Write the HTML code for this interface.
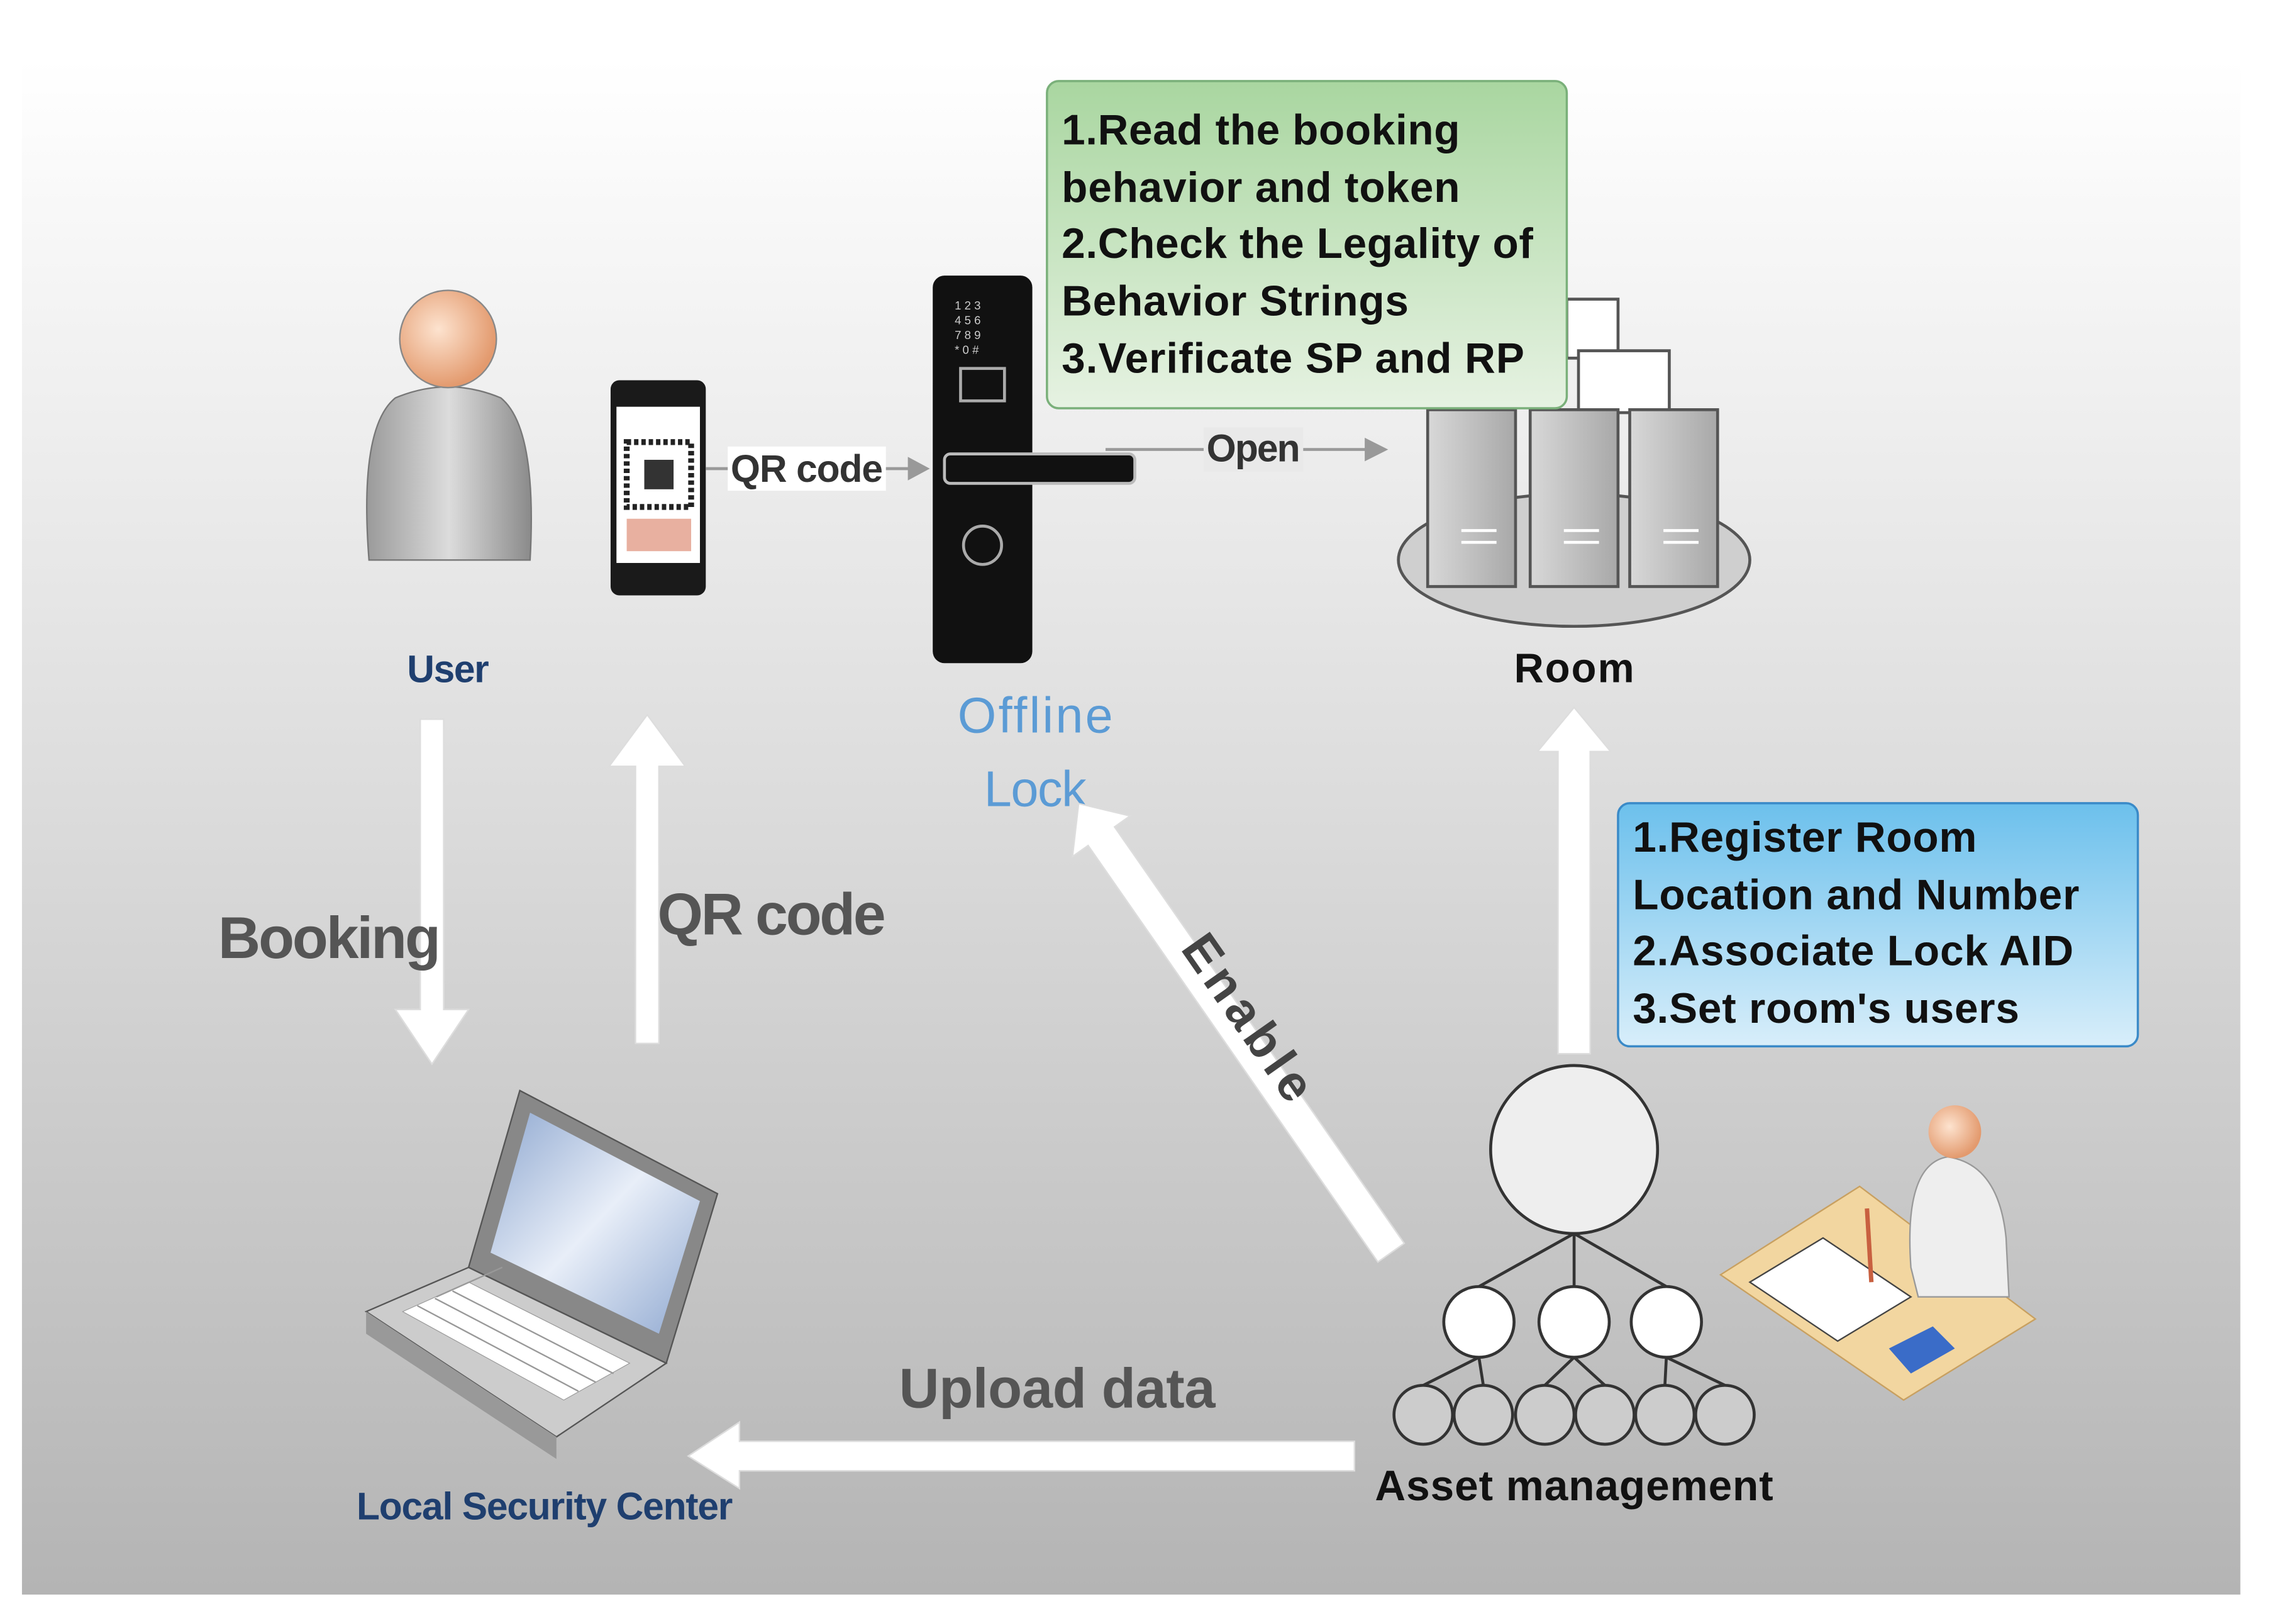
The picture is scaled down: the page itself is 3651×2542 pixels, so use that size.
<!DOCTYPE html>
<html><head><meta charset="utf-8"><style>
html,body{margin:0;padding:0;background:#fff;}
svg{display:block;}
text{font-family:"Liberation Sans",sans-serif;}
</style></head><body>
<svg width="3651" height="2542" viewBox="0 0 1568 1085" preserveAspectRatio="none" xmlns="http://www.w3.org/2000/svg">
<defs>
<linearGradient id="bg" x1="0" y1="0" x2="0" y2="1">
<stop offset="0" stop-color="#ffffff"/><stop offset="0.35" stop-color="#e6e6e6"/><stop offset="1" stop-color="#b4b4b4"/>
</linearGradient>
<linearGradient id="gbox" x1="0" y1="0" x2="0" y2="1">
<stop offset="0" stop-color="#a9d6a0"/><stop offset="1" stop-color="#e6f2e2"/>
</linearGradient>
<linearGradient id="bbox" x1="0" y1="0" x2="0" y2="1">
<stop offset="0" stop-color="#6cc0ec"/><stop offset="1" stop-color="#d8eefa"/>
</linearGradient>
<radialGradient id="head" cx="0.4" cy="0.4" r="0.6">
<stop offset="0" stop-color="#fde3cf"/><stop offset="1" stop-color="#e39a6e"/>
</radialGradient>
<linearGradient id="body" x1="0" y1="0" x2="1" y2="0">
<stop offset="0" stop-color="#9a9a9a"/><stop offset="0.5" stop-color="#dcdcdc"/><stop offset="1" stop-color="#8a8a8a"/>
</linearGradient>
<linearGradient id="srv" x1="0" y1="0" x2="1" y2="0">
<stop offset="0" stop-color="#d8d8d8"/><stop offset="1" stop-color="#a8a8a8"/>
</linearGradient>
<linearGradient id="scr" x1="0" y1="0" x2="1" y2="1">
<stop offset="0" stop-color="#8fa8d0"/><stop offset="0.5" stop-color="#e8eef8"/><stop offset="1" stop-color="#8fa8d0"/>
</linearGradient>
</defs>
<rect x="15" y="40" width="1515" height="1042" fill="url(#bg)"/>

<path d="M252,380 Q245,290 270,270 Q306,255 342,270 Q367,290 362,380 Z" fill="url(#body)" stroke="#777"/>
<circle cx="306" cy="230" r="33" fill="url(#head)" stroke="#888"/>
<text x="306" y="463" font-size="26" font-weight="bold" fill="#1f3f6f" text-anchor="middle" textLength="56">User</text>

<rect x="417" y="258" width="65" height="146" rx="6" fill="#1a1a1a"/>
<rect x="421" y="276" width="57" height="106" fill="#fff"/>
<rect x="428" y="300" width="44" height="44" fill="none" stroke="#222" stroke-width="4" stroke-dasharray="3 2"/>
<rect x="440" y="312" width="20" height="20" fill="#333"/>
<rect x="428" y="352" width="44" height="22" fill="#e8b0a0"/>

<line x1="482" y1="318" x2="625" y2="318" stroke="#999" stroke-width="2"/>
<polygon points="635,318 620,310 620,326" fill="#999"/>
<rect x="497" y="303" width="108" height="30" fill="#fff"/>
<text x="551" y="327" font-size="26" font-weight="bold" fill="#333" text-anchor="middle" textLength="104">QR code</text>

<rect x="637" y="187" width="68" height="263" rx="8" fill="#111"/>
<g fill="#ccc" font-size="8"><text x="652" y="210">1 2 3</text><text x="652" y="220">4 5 6</text><text x="652" y="230">7 8 9</text><text x="652" y="240">* 0 #</text></g>
<rect x="656" y="250" width="30" height="22" fill="none" stroke="#aaa" stroke-width="2"/>
<rect x="645" y="308" width="130" height="20" rx="4" fill="#111" stroke="#bbb" stroke-width="2"/>
<circle cx="671" cy="370" r="13" fill="none" stroke="#aaa" stroke-width="2"/>

<line x1="755" y1="305" x2="935" y2="305" stroke="#999" stroke-width="2"/>
<polygon points="948,305 932,297 932,313" fill="#999"/>
<rect x="822" y="290" width="68" height="30" fill="#e9e9e9"/>
<text x="856" y="313" font-size="26" font-weight="bold" fill="#333" text-anchor="middle" textLength="64">Open</text>

<ellipse cx="1075" cy="380" rx="120" ry="45" fill="#cfcfcf" stroke="#555" stroke-width="2"/>
<rect x="1070" y="203" width="35" height="40" fill="#fff" stroke="#555" stroke-width="2"/>
<rect x="1078" y="238" width="62" height="42" fill="#fff" stroke="#555" stroke-width="2"/>
<rect x="975" y="278" width="60" height="120" fill="url(#srv)" stroke="#555" stroke-width="2"/>
<rect x="1045" y="278" width="60" height="120" fill="url(#srv)" stroke="#555" stroke-width="2"/>
<rect x="1113" y="278" width="60" height="120" fill="url(#srv)" stroke="#555" stroke-width="2"/>
<g stroke="#fff" stroke-width="2"><line x1="998" y1="360" x2="1022" y2="360"/><line x1="998" y1="368" x2="1022" y2="368"/><line x1="1068" y1="360" x2="1092" y2="360"/><line x1="1068" y1="368" x2="1092" y2="368"/><line x1="1136" y1="360" x2="1160" y2="360"/><line x1="1136" y1="368" x2="1160" y2="368"/></g>
<text x="1075" y="463" font-size="28" font-weight="bold" fill="#111" text-anchor="middle" textLength="82">Room</text>

<rect x="715" y="55" width="355" height="222" rx="8" fill="url(#gbox)" stroke="#7ab07a" stroke-width="1.5"/>
<g font-size="29" font-weight="bold" fill="#111">
<text x="725" y="98" textLength="272">1.Read the booking</text>
<text x="725" y="137" textLength="272">behavior and token</text>
<text x="725" y="175" textLength="322">2.Check the Legality of</text>
<text x="725" y="214" textLength="237">Behavior Strings</text>
<text x="725" y="253" textLength="316">3.Verificate SP and RP</text>
</g>

<text x="707" y="497" font-size="34" fill="#5b9bd5" text-anchor="middle" textLength="106">Offline</text>
<text x="707" y="547" font-size="34" fill="#5b9bd5" text-anchor="middle" textLength="70">Lock</text>

<polygon points="287,488 303,488 303,685 320,685 295,722 270,685 287,685" fill="#fff" stroke="#ddd"/>
<text x="225" y="650" font-size="40" font-weight="bold" fill="#555" text-anchor="middle" textLength="152">Booking</text>
<polygon points="434,708 450,708 450,520 468,520 442,485 416,520 434,520" fill="#fff" stroke="#ddd"/>
<text x="527" y="634" font-size="40" font-weight="bold" fill="#555" text-anchor="middle" textLength="156">QR code</text>

<g transform="translate(950,850) rotate(-125)">
<polygon points="0,-11 345,-11 345,-24 372,0 345,24 345,11 0,11" fill="#fff" stroke="#ddd"/>
</g>
<text x="843" y="697" font-size="34" font-weight="bold" fill="#444" text-anchor="middle" transform="rotate(55 843 697)" textLength="130">Enable</text>

<polygon points="1064,715 1086,715 1086,510 1100,510 1075,480 1050,510 1064,510" fill="#fff" stroke="#ddd"/>

<rect x="1105" y="545" width="355" height="165" rx="8" fill="url(#bbox)" stroke="#3a8ac8" stroke-width="1.5"/>
<g font-size="29" font-weight="bold" fill="#111">
<text x="1115" y="578" textLength="235">1.Register Room</text>
<text x="1115" y="617" textLength="305">Location and Number</text>
<text x="1115" y="655" textLength="301">2.Associate Lock AID</text>
<text x="1115" y="694" textLength="264">3.Set room's users</text>
</g>

<g stroke="#333" stroke-width="2" fill="none">
<line x1="1075" y1="837" x2="1010" y2="873"/><line x1="1075" y1="837" x2="1075" y2="873"/><line x1="1075" y1="837" x2="1138" y2="873"/>
<line x1="1010" y1="921" x2="972" y2="940"/><line x1="1010" y1="921" x2="1013" y2="940"/>
<line x1="1075" y1="921" x2="1055" y2="940"/><line x1="1075" y1="921" x2="1096" y2="940"/>
<line x1="1138" y1="921" x2="1137" y2="940"/><line x1="1138" y1="921" x2="1178" y2="940"/>
</g>
<g stroke="#333" stroke-width="2">
<circle cx="1075" cy="780" r="57" fill="#eee"/>
<circle cx="1010" cy="897" r="24" fill="#fff"/><circle cx="1075" cy="897" r="24" fill="#fff"/><circle cx="1138" cy="897" r="24" fill="#fff"/>
<g fill="#ccc"><circle cx="972" cy="960" r="20"/><circle cx="1013" cy="960" r="20"/><circle cx="1055" cy="960" r="20"/><circle cx="1096" cy="960" r="20"/><circle cx="1137" cy="960" r="20"/><circle cx="1178" cy="960" r="20"/></g>
</g>
<text x="1075" y="1018" font-size="29" font-weight="bold" fill="#111" text-anchor="middle" textLength="272">Asset management</text>

<polygon points="1175,865 1270,805 1390,895 1300,950" fill="#f2d6a0" stroke="#c8a060"/>
<polygon points="1195,870 1245,840 1305,880 1255,910" fill="#fff" stroke="#444"/>
<polygon points="1290,915 1320,900 1335,915 1305,932" fill="#3a6cc8"/>
<path d="M1305,860 Q1300,790 1330,785 Q1365,790 1370,840 L1372,880 L1310,880 Z" fill="#eee" stroke="#999"/>
<circle cx="1335" cy="768" r="18" fill="url(#head)"/>
<line x1="1275" y1="820" x2="1278" y2="870" stroke="#c86040" stroke-width="3"/>

<polygon points="925,978 505,978 505,965 470,988 505,1010 505,998 925,998" fill="#fff" stroke="#ddd"/>
<text x="722" y="955" font-size="38" font-weight="bold" fill="#555" text-anchor="middle" textLength="216">Upload data</text>

<polygon points="355,740 490,810 455,925 320,860" fill="#888" stroke="#555"/>
<polygon points="362,755 478,815 450,905 335,850" fill="url(#scr)"/>
<polygon points="250,890 320,860 455,925 380,975" fill="#ccc" stroke="#555"/>
<polygon points="250,890 380,975 380,990 250,905" fill="#999"/>
<polygon points="275,890 320,870 430,925 385,950" fill="#fff" stroke="#999" stroke-width="0.5"/>
<g stroke="#999" stroke-width="1"><line x1="285" y1="886" x2="395" y2="944"/><line x1="297" y1="881" x2="407" y2="938"/><line x1="309" y1="876" x2="419" y2="932"/><line x1="298" y1="880" x2="343" y2="860"/></g>
<text x="372" y="1031" font-size="26" font-weight="bold" fill="#1f3f6f" text-anchor="middle" textLength="257">Local Security Center</text>
</svg>
</body></html>
